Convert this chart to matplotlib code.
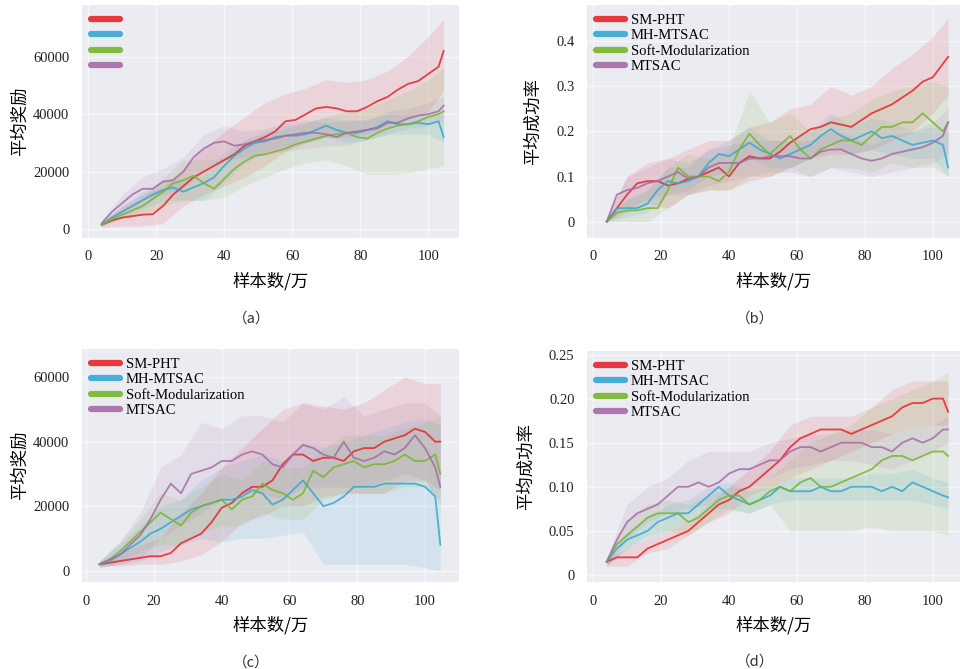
import matplotlib
matplotlib.use("Agg")
import matplotlib.pyplot as plt
import numpy as np

plt.rcParams['font.family'] = ['Liberation Serif', 'Noto Sans CJK SC', 'DejaVu Sans']

# ---------------- data ----------------
series_names = ["SM-PHT", "MH-MTSAC", "Soft-Modularization", "MTSAC"]
colors = ["#e4262c", "#35a8d2", "#76b62e", "#a46ca6"]

x_mean = [4, 7, 10, 13, 16, 19, 22, 25, 28, 31, 34, 37, 40, 43, 46, 49, 52, 55,
          58, 61, 64, 67, 70, 73, 76, 79, 82, 85, 88, 91, 94, 97, 100, 103, 104.5]
x_band = [4, 10, 16, 22, 28, 34, 40, 46, 52, 58, 64, 70, 76, 82, 88, 94, 100, 104.5]

xticks = [0, 20, 40, 60, 80, 100]
xlabel = "样本数/万"
panel_labels = ["（a）", "（b）", "（c）", "（d）"]
ylabels = ["平均奖励", "平均成功率", "平均奖励", "平均成功率"]
yticks_a = [0, 20000, 40000, 60000]
yticklabels_a = ["0", "20000", "40000", "60000"]
yticks_b = [0, 0.1, 0.2, 0.3, 0.4]
yticklabels_b = ["0", "0.1", "0.2", "0.3", "0.4"]
yticks_c = [0, 20000, 40000, 60000]
yticklabels_c = ["0", "20000", "40000", "60000"]
yticks_d = [0, 0.05, 0.10, 0.15, 0.20, 0.25]
yticklabels_d = ["0", "0.05", "0.10", "0.15", "0.20", "0.25"]

# panel (a) mean
a_red = [1500, 3000, 4000, 4500, 5000, 5200, 8000, 12000, 15000, 18000, 20000, 22000, 24000, 26000,
         29000, 30500, 32000, 34000, 37500, 38000, 40000, 42000, 42500, 42000, 41000, 41000, 42500,
         44500, 46000, 48500, 50500, 51500, 54000, 56500, 62000]
a_blue = [1500, 4000, 6000, 8000, 10000, 12000, 13500, 14500, 13000, 14500, 16000, 18000, 22000, 25500,
          28000, 30000, 30500, 32000, 32500, 32500, 33000, 34500, 36000, 34500, 33500, 33500, 34500,
          35500, 37500, 36500, 36500, 37000, 36500, 37500, 32000]
a_green = [1500, 3500, 5000, 6500, 8000, 10500, 13000, 16000, 17000, 18500, 16000, 14000, 17500, 21000,
           23500, 25500, 26000, 27000, 28000, 29500, 30500, 31500, 32500, 33000, 33500, 32000, 31500,
           33500, 35000, 36000, 36500, 37500, 39000, 40000, 41000]
a_purple = [2000, 6000, 9000, 12000, 14000, 14000, 16500, 17000, 20000, 25000, 28000, 30000, 30500, 29000,
            29500, 30500, 31000, 31500, 32500, 33000, 33500, 33500, 33000, 32000, 33500, 34000, 34500,
            35000, 37000, 37000, 38500, 39500, 40000, 41000, 43000]
# panel (a) bands
a_red_lo = [500, 1000, 1000, 2000, 8000, 12000, 15000, 18000, 22000, 27000, 30000, 32000, 32000, 33000, 36000, 38000, 41000, 48000]
a_red_hi = [2500, 8000, 12000, 15000, 21000, 28000, 34000, 39000, 44000, 47000, 49000, 52000, 51000, 52000, 55000, 60000, 67000, 73000]
a_blue_lo = [1000, 4000, 7000, 10000, 10000, 10000, 16000, 23000, 27000, 29000, 30000, 32000, 30000, 31000, 33000, 33000, 33000, 30000]
a_blue_hi = [2500, 8000, 13000, 17000, 16500, 19000, 27000, 31000, 34000, 36000, 37000, 39000, 37500, 38000, 40000, 40000, 40000, 40000]
a_green_lo = [1000, 3500, 5000, 8000, 10000, 10000, 11000, 15000, 18000, 21000, 23000, 24000, 22000, 19000, 19000, 19500, 21000, 22000]
a_green_hi = [2500, 7000, 11000, 18000, 24000, 24000, 25000, 31000, 33000, 35000, 37000, 39000, 41000, 42000, 45000, 48000, 52000, 56000]
a_purple_lo = [1000, 6000, 10000, 12000, 14000, 20000, 24000, 25000, 26000, 27000, 28000, 29000, 29000, 31000, 33000, 35000, 36000, 38000]
a_purple_hi = [3000, 12000, 18000, 21000, 25000, 33000, 36000, 34000, 35000, 37000, 38000, 37000, 38000, 38000, 41000, 42000, 44000, 46000]

# panel (b) mean
b_red = [0.0, 0.03, 0.06, 0.085, 0.09, 0.09, 0.08, 0.085, 0.095, 0.10, 0.11, 0.12, 0.10, 0.13, 0.145,
         0.14, 0.14, 0.155, 0.175, 0.19, 0.205, 0.21, 0.22, 0.215, 0.21, 0.225, 0.24, 0.25, 0.26,
         0.275, 0.29, 0.31, 0.32, 0.35, 0.365]
b_blue = [0.0, 0.03, 0.03, 0.03, 0.04, 0.07, 0.09, 0.085, 0.09, 0.10, 0.13, 0.15, 0.145, 0.16, 0.175,
          0.16, 0.15, 0.14, 0.15, 0.16, 0.17, 0.19, 0.205, 0.19, 0.18, 0.19, 0.20, 0.185, 0.19,
          0.18, 0.17, 0.175, 0.18, 0.17, 0.12]
b_green = [0.0, 0.02, 0.025, 0.025, 0.03, 0.03, 0.07, 0.12, 0.10, 0.10, 0.10, 0.09, 0.11, 0.16, 0.195,
           0.17, 0.15, 0.17, 0.19, 0.16, 0.14, 0.16, 0.17, 0.18, 0.18, 0.17, 0.19, 0.21, 0.21,
           0.22, 0.22, 0.24, 0.22, 0.20, 0.22]
b_purple = [0.0, 0.06, 0.07, 0.075, 0.085, 0.09, 0.10, 0.11, 0.095, 0.10, 0.12, 0.13, 0.13, 0.13, 0.14,
            0.14, 0.145, 0.145, 0.145, 0.14, 0.14, 0.155, 0.16, 0.16, 0.15, 0.14, 0.135, 0.14, 0.15,
            0.155, 0.16, 0.165, 0.175, 0.19, 0.22]
b_red_lo = [0.0, 0.02, 0.04, 0.03, 0.06, 0.07, 0.07, 0.09, 0.10, 0.12, 0.14, 0.15, 0.15, 0.16, 0.18, 0.20, 0.24, 0.28]
b_red_hi = [0.01, 0.10, 0.13, 0.14, 0.16, 0.18, 0.18, 0.21, 0.22, 0.25, 0.26, 0.30, 0.28, 0.30, 0.34, 0.37, 0.41, 0.45]
b_blue_lo = [0.0, 0.01, 0.02, 0.06, 0.07, 0.10, 0.11, 0.14, 0.12, 0.12, 0.14, 0.17, 0.15, 0.16, 0.15, 0.14, 0.14, 0.10]
b_blue_hi = [0.01, 0.05, 0.07, 0.12, 0.12, 0.16, 0.18, 0.21, 0.18, 0.18, 0.20, 0.24, 0.21, 0.23, 0.22, 0.20, 0.21, 0.20]
b_green_lo = [0.0, 0.0, 0.0, 0.03, 0.06, 0.07, 0.07, 0.10, 0.10, 0.12, 0.10, 0.12, 0.12, 0.11, 0.13, 0.12, 0.12, 0.10]
b_green_hi = [0.01, 0.05, 0.07, 0.12, 0.15, 0.14, 0.16, 0.29, 0.22, 0.24, 0.20, 0.23, 0.24, 0.27, 0.29, 0.30, 0.31, 0.30]
b_purple_lo = [0.0, 0.03, 0.05, 0.06, 0.06, 0.08, 0.09, 0.10, 0.11, 0.11, 0.10, 0.12, 0.11, 0.10, 0.11, 0.12, 0.13, 0.15]
b_purple_hi = [0.01, 0.10, 0.12, 0.14, 0.13, 0.16, 0.17, 0.18, 0.18, 0.18, 0.18, 0.20, 0.19, 0.17, 0.19, 0.20, 0.22, 0.25]

# panel (c) mean
c_red = [2000, 2500, 3000, 3500, 4000, 4500, 4500, 5500, 8500, 10000, 11500, 15000, 19500, 21000,
         24000, 26000, 26000, 28000, 33000, 36000, 36000, 34000, 35000, 35000, 34000, 37000, 38000,
         38000, 40000, 41000, 42000, 44000, 43000, 40000, 40000]
c_blue = [2000, 3000, 5000, 7000, 9000, 11500, 13000, 15000, 17000, 19000, 20000, 21000, 22000, 22000,
          23000, 25000, 24000, 20500, 22000, 25000, 28000, 24000, 20000, 21000, 23000, 26000, 26000,
          26000, 27000, 27000, 27000, 27000, 26000, 23000, 8000]
c_green = [2000, 3500, 6000, 9000, 12000, 15000, 18000, 16000, 14000, 18000, 20000, 21000, 22000, 19000,
           22000, 23000, 27000, 25000, 24000, 22000, 24000, 31000, 29000, 32000, 33000, 34000, 32000,
           33000, 33000, 34000, 36000, 34000, 34000, 36000, 30000]
c_purple = [2000, 3500, 5000, 8000, 11000, 16000, 22000, 27000, 24000, 30000, 31000, 32000, 34000, 34000,
            36000, 37000, 36000, 33000, 32000, 36000, 39000, 38000, 36000, 35000, 40000, 35000, 34000,
            35000, 37000, 36000, 38000, 42000, 38000, 32000, 26000]
c_red_lo = [1500, 1500, 2000, 2000, 3000, 5000, 9000, 15000, 17000, 20000, 20000, 23000, 24000, 24000, 24000, 28000, 28000, 25000]
c_red_hi = [3000, 5000, 8000, 10000, 18000, 24000, 32000, 38000, 44000, 50000, 52000, 51000, 50000, 52000, 56000, 60000, 58000, 58000]
c_blue_lo = [1000, 2000, 3000, 6000, 8000, 10000, 9000, 10000, 10000, 11000, 12000, 2000, 2000, 2000, 2000, 2000, 1000, 0]
c_blue_hi = [3000, 8000, 14000, 20000, 22000, 28000, 32000, 34000, 36000, 34000, 40000, 38000, 40000, 42000, 44000, 46000, 47000, 45000]
c_green_lo = [1000, 3000, 6000, 8000, 8000, 12000, 14000, 14000, 18000, 16000, 16000, 22000, 24000, 24000, 24000, 26000, 26000, 22000]
c_green_hi = [3000, 9000, 16000, 24000, 22000, 26000, 30000, 28000, 34000, 32000, 32000, 38000, 42000, 42000, 42000, 44000, 46000, 48000]
c_purple_lo = [1000, 2000, 4000, 10000, 14000, 18000, 22000, 24000, 24000, 22000, 26000, 26000, 26000, 26000, 28000, 30000, 28000, 20000]
c_purple_hi = [3000, 9000, 18000, 32000, 36000, 46000, 44000, 48000, 48000, 46000, 52000, 50000, 54000, 48000, 50000, 52000, 52000, 48000]

# panel (d) mean
d_red = [0.015, 0.02, 0.02, 0.02, 0.03, 0.035, 0.04, 0.045, 0.05, 0.06, 0.07, 0.08, 0.085, 0.095, 0.10,
         0.11, 0.12, 0.13, 0.145, 0.155, 0.16, 0.165, 0.165, 0.165, 0.16, 0.165, 0.17, 0.175, 0.18,
         0.19, 0.195, 0.195, 0.20, 0.20, 0.185]
d_blue = [0.015, 0.03, 0.04, 0.045, 0.05, 0.06, 0.065, 0.07, 0.07, 0.08, 0.09, 0.10, 0.09, 0.085, 0.08,
          0.085, 0.09, 0.10, 0.095, 0.095, 0.095, 0.10, 0.095, 0.095, 0.10, 0.10, 0.10, 0.095, 0.10,
          0.095, 0.105, 0.10, 0.095, 0.09, 0.088]
d_green = [0.015, 0.035, 0.045, 0.055, 0.065, 0.07, 0.07, 0.07, 0.06, 0.065, 0.075, 0.085, 0.09, 0.09, 0.08,
           0.085, 0.095, 0.10, 0.095, 0.105, 0.11, 0.10, 0.10, 0.105, 0.11, 0.115, 0.12, 0.13, 0.135,
           0.135, 0.13, 0.135, 0.14, 0.14, 0.135]
d_purple = [0.015, 0.04, 0.06, 0.07, 0.075, 0.08, 0.09, 0.10, 0.10, 0.105, 0.10, 0.105, 0.115, 0.12, 0.12,
            0.125, 0.13, 0.13, 0.14, 0.145, 0.145, 0.14, 0.145, 0.15, 0.15, 0.15, 0.145, 0.145, 0.14,
            0.15, 0.155, 0.15, 0.155, 0.165, 0.165]
d_red_lo = [0.01, 0.01, 0.025, 0.03, 0.045, 0.06, 0.07, 0.09, 0.10, 0.11, 0.12, 0.13, 0.14, 0.15, 0.16, 0.17, 0.17, 0.17]
d_red_hi = [0.02, 0.03, 0.04, 0.05, 0.06, 0.08, 0.10, 0.12, 0.14, 0.17, 0.18, 0.18, 0.18, 0.19, 0.21, 0.22, 0.22, 0.22]
d_blue_lo = [0.01, 0.03, 0.04, 0.05, 0.06, 0.075, 0.075, 0.07, 0.08, 0.085, 0.085, 0.085, 0.085, 0.085, 0.085, 0.085, 0.08, 0.075]
d_blue_hi = [0.02, 0.05, 0.065, 0.08, 0.085, 0.10, 0.105, 0.095, 0.10, 0.11, 0.11, 0.11, 0.11, 0.115, 0.115, 0.12, 0.11, 0.105]
d_green_lo = [0.01, 0.03, 0.045, 0.05, 0.045, 0.06, 0.075, 0.07, 0.08, 0.05, 0.05, 0.05, 0.05, 0.055, 0.05, 0.05, 0.05, 0.045]
d_green_hi = [0.02, 0.06, 0.08, 0.085, 0.08, 0.09, 0.10, 0.10, 0.11, 0.13, 0.15, 0.16, 0.17, 0.19, 0.20, 0.21, 0.22, 0.23]
d_purple_lo = [0.01, 0.04, 0.06, 0.07, 0.075, 0.08, 0.09, 0.10, 0.11, 0.12, 0.125, 0.13, 0.13, 0.125, 0.12, 0.13, 0.14, 0.15]
d_purple_hi = [0.02, 0.08, 0.10, 0.11, 0.13, 0.14, 0.14, 0.14, 0.15, 0.155, 0.16, 0.16, 0.165, 0.165, 0.16, 0.17, 0.17, 0.18]

# ---------------- layout ----------------
fig = plt.figure(figsize=(9.6, 6.69), dpi=100)
face = "#EBEBF2"

panels = [
    dict(rect=[0.0854, 0.6443, 0.3927, 0.3483], xlim=(-1.8, 109), ylim=(-3100, 78000),
         yt=yticks_a, ytl=yticklabels_a,
         means=[a_red, a_blue, a_green, a_purple],
         los=[a_red_lo, a_blue_lo, a_green_lo, a_purple_lo],
         his=[a_red_hi, a_blue_hi, a_green_hi, a_purple_hi], leg_labels=["", "", "", ""]),
    dict(rect=[0.6115, 0.6443, 0.3885, 0.3483], xlim=(-1.8, 108), ylim=(-0.036, 0.48),
         yt=yticks_b, ytl=yticklabels_b,
         means=[b_red, b_blue, b_green, b_purple],
         los=[b_red_lo, b_blue_lo, b_green_lo, b_purple_lo],
         his=[b_red_hi, b_blue_hi, b_green_hi, b_purple_hi], leg_labels=series_names),
    dict(rect=[0.0854, 0.1300, 0.3927, 0.3483], xlim=(-1.2, 110), ylim=(-3500, 68700),
         yt=yticks_c, ytl=yticklabels_c,
         means=[c_red, c_blue, c_green, c_purple],
         los=[c_red_lo, c_blue_lo, c_green_lo, c_purple_lo],
         his=[c_red_hi, c_blue_hi, c_green_hi, c_purple_hi], leg_labels=series_names),
    dict(rect=[0.6115, 0.1300, 0.3885, 0.3453], xlim=(-1.8, 108), ylim=(-0.008, 0.254),
         yt=yticks_d, ytl=yticklabels_d,
         means=[d_red, d_blue, d_green, d_purple],
         los=[d_red_lo, d_blue_lo, d_green_lo, d_purple_lo],
         his=[d_red_hi, d_blue_hi, d_green_hi, d_purple_hi], leg_labels=series_names),
]

for i, p in enumerate(panels):
    ax = fig.add_axes(p["rect"])
    ax.set_facecolor(face)
    for s in ax.spines.values():
        s.set_visible(False)
    ax.grid(True, color="white", lw=1.0, alpha=0.6)
    ax.set_axisbelow(True)
    handles = []
    for k in range(4):
        ax.fill_between(x_band, p["los"][k], p["his"][k], color=colors[k], alpha=0.12, lw=0)
    for k in range(4):
        ax.plot(x_mean, p["means"][k], color=colors[k], lw=1.3, alpha=0.85)
    for k in range(4):
        h, = ax.plot([], [], color=colors[k], lw=4.5, solid_capstyle="round", alpha=0.9)
        handles.append(h)
    ax.set_xlim(*p["xlim"])
    ax.set_ylim(*p["ylim"])
    ax.set_xticks(xticks)
    ax.set_xticklabels([str(t) for t in xticks])
    ax.set_yticks(p["yt"])
    ax.set_yticklabels(p["ytl"])
    ax.tick_params(axis="both", length=0, labelsize=10.5, colors="#222222")
    ax.tick_params(axis="x", pad=9)
    ax.tick_params(axis="y", pad=9)
    ax.set_xlabel(xlabel, fontsize=12.5, labelpad=6, family=["Noto Sans CJK SC"])
    ax.set_ylabel(ylabels[i], fontsize=12.5, labelpad=3 if i in (0, 2) else 10,
                  family=["Noto Sans CJK SC"])
    ax.legend(handles, p["leg_labels"], loc="upper left", frameon=False, fontsize=10.5,
              labelspacing=0.15, handlelength=2.0, handletextpad=0.4,
              borderaxespad=0.3, borderpad=0.3)
    ax.text(0.45, -0.345, panel_labels[i], transform=ax.transAxes, ha="center", va="center",
            fontsize=10.5, family=["Noto Sans CJK SC"], color="#333333")

fig.savefig("out.png", dpi=100, facecolor="white")
